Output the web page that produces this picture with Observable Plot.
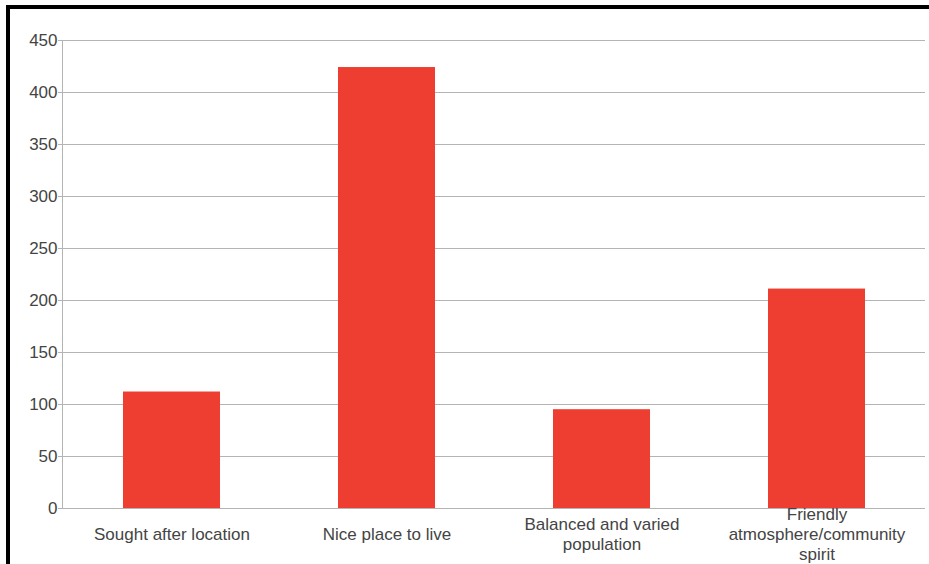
<!DOCTYPE html>
<html>
<head>
<meta charset="utf-8">
<script src="https://cdn.jsdelivr.net/npm/d3@7"></script>
<script src="https://cdn.jsdelivr.net/npm/@observablehq/plot@0.6"></script>
<style>
  html, body { margin: 0; padding: 0; background: #fff; overflow: hidden; }
  #frame {
    position: absolute; left: 6px; top: 5px;
    width: 930px; height: 570px;
    border-left: 4px solid #000; border-top: 4px solid #000;
  }
  #frame svg { display: block; }
</style>
</head>
<body>
<div id="frame"></div>
<script>
const categories = ["Sought after location", "Nice place to live", "Balanced and varied population", "Friendly atmosphere/community spirit"];
const tickLabels = ["Sought after location", "Nice place to live", "Balanced and varied\npopulation", "Friendly\natmosphere/community\nspirit"];
const values = [112, 424, 95, 211];
const yTicks = [0, 50, 100, 150, 200, 250, 300, 350, 400, 450];

const data = categories.map((c, i) => ({category: c, value: values[i]}));
const labelOf = new Map(categories.map((c, i) => [c, tickLabels[i]]));

const textColor = "#444444";
const gridColor = "#b4b4b4";

const chart = Plot.plot({
  width: 919,
  height: 555,
  marginLeft: 52,
  marginRight: 4,
  marginTop: 31,
  marginBottom: 56,
  style: {fontFamily: "'Liberation Sans', Arial, sans-serif", fontSize: "17px", color: textColor, background: "#fff"},
  x: {domain: categories, paddingInner: 0.55, paddingOuter: 0.275, label: null},
  y: {domain: [0, 450], label: null},
  marks: [
    Plot.gridY(yTicks, {stroke: gridColor, strokeOpacity: 1}),
    Plot.frame({anchor: "left", stroke: gridColor}),
    Plot.barY(data, {x: "category", y: "value", fill: "#ee3d31"}),
    Plot.axisY(yTicks, {tickSize: 4, tickPadding: 1, stroke: gridColor, fill: textColor, fontSize: 17, label: null}),
    Plot.axisX({tickSize: 0, tickPadding: 25, lineAnchor: "middle", lineHeight: 1.2, fontSize: 17, fill: textColor, tickFormat: d => labelOf.get(d), label: null})
  ]
});
document.getElementById("frame").appendChild(chart);
</script>
</body>
</html>
